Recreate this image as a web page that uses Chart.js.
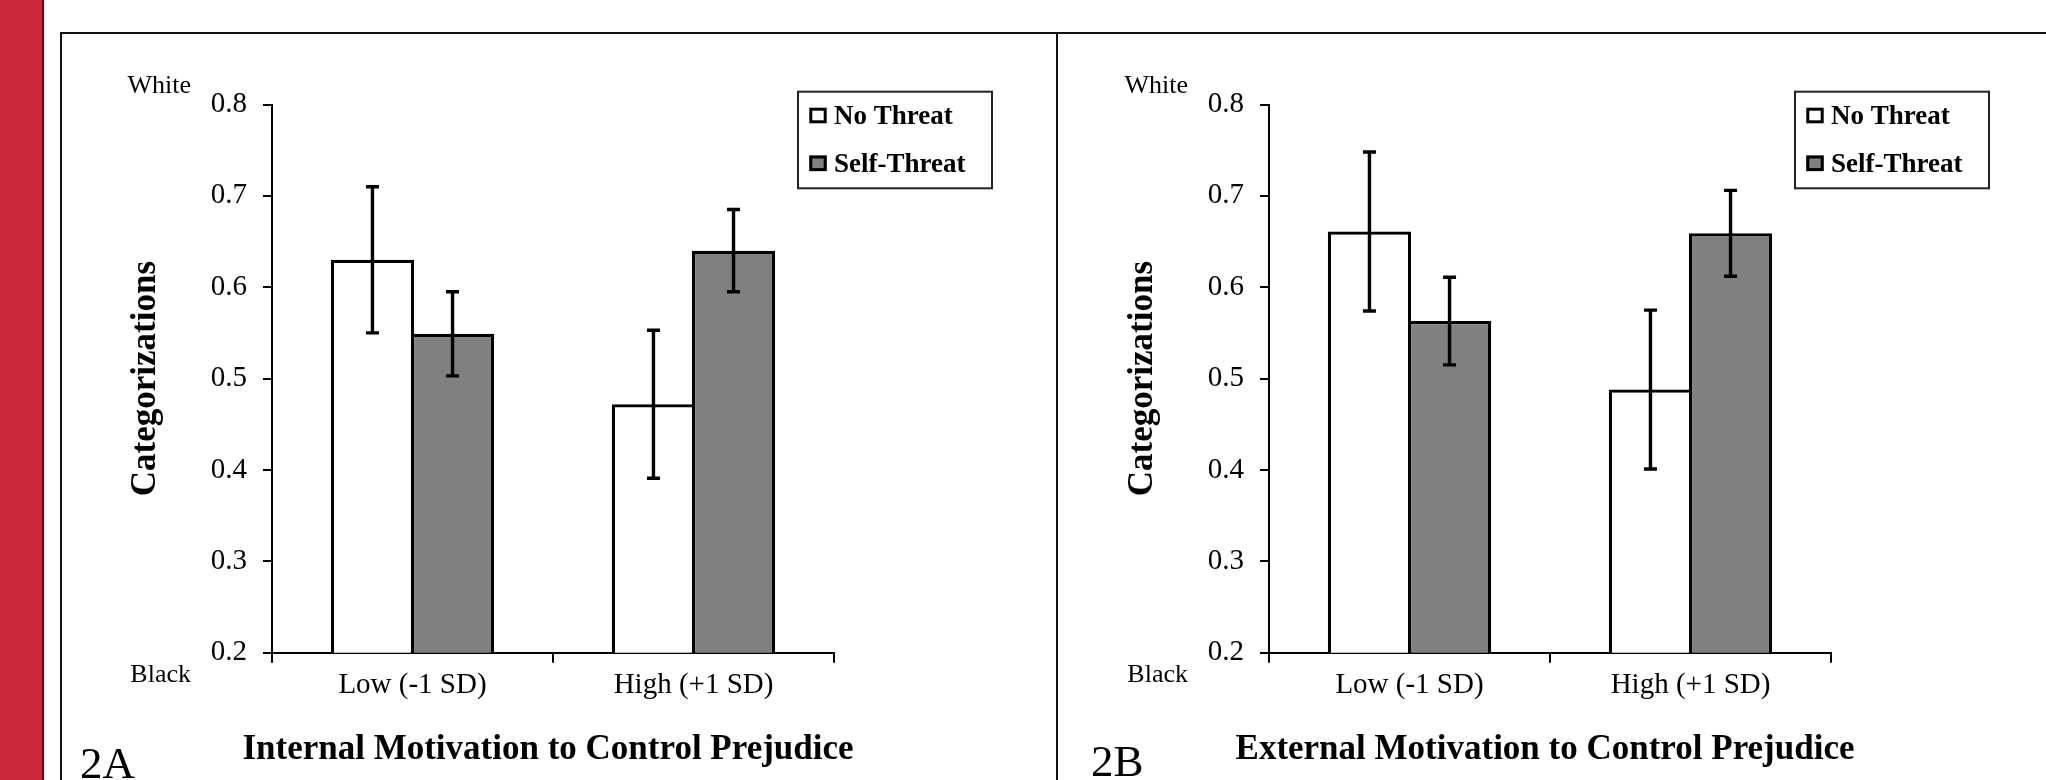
<!DOCTYPE html>
<html><head><meta charset="utf-8">
<script src="https://cdn.jsdelivr.net/npm/chart.js@4/dist/chart.umd.min.js"></script>
<style>
html,body{margin:0;padding:0;background:#fff;width:2046px;height:780px;overflow:hidden;}
#band{position:absolute;left:0;top:0;width:42px;height:780px;background:#C9283B;border-right:2px solid #5a1018;}
.panel{position:absolute;top:32px;height:748px;border-left:2px solid #111;border-top:2px solid #111;box-sizing:border-box;}
#pA{left:60px;width:996px;}
#pB{left:1056px;width:990px;}
canvas{position:absolute;}
</style></head>
<body>
<div id="band"></div>
<div class="panel" id="pA"></div>
<div class="panel" id="pB"></div>
<canvas id="cA" width="994" height="746" style="left:62px;top:34px"></canvas>
<canvas id="cB" width="988" height="746" style="left:1058px;top:34px"></canvas>
<script>
// ---- data ----
const categories = ['Low (-1 SD)', 'High (+1 SD)'];
const seriesNames = ['No Threat', 'Self-Threat'];
const seriesColors = ['#ffffff', '#808080'];
const yRange = [0.2, 0.8];
const yStep = 0.1;
const yEndLabels = ['White', 'Black'];
const yTitle = 'Categorizations';

const noThreatA = [0.630, 0.472];
const selfThreatA = [0.549, 0.640];
const noThreatErrA = [0.080, 0.081];
const selfThreatErrA = [0.046, 0.045];
const xTitleA = 'Internal Motivation to Control Prejudice';
const tagA = '2A';

const noThreatB = [0.661, 0.488];
const selfThreatB = [0.563, 0.659];
const noThreatErrB = [0.087, 0.087];
const selfThreatErrB = [0.048, 0.047];
const xTitleB = 'External Motivation to Control Prejudice';
const tagB = '2B';

const SERIF = "'Liberation Serif', 'Times New Roman', serif";

const errorBarPlugin = {
  id: 'errorBars',
  afterDatasetsDraw(chart) {
    const ctx = chart.ctx, y = chart.scales.y;
    ctx.save();
    ctx.strokeStyle = '#000';
    ctx.lineWidth = 3.4;
    chart.data.datasets.forEach((ds, i) => {
      const meta = chart.getDatasetMeta(i);
      meta.data.forEach((bar, j) => {
        const v = ds.data[j], e = ds.errors[j];
        const yt = y.getPixelForValue(v + e), yb = y.getPixelForValue(v - e);
        ctx.beginPath();
        ctx.moveTo(bar.x, yt); ctx.lineTo(bar.x, yb);
        ctx.moveTo(bar.x - 6.5, yt); ctx.lineTo(bar.x + 6.5, yt);
        ctx.moveTo(bar.x - 6.5, yb); ctx.lineTo(bar.x + 6.5, yb);
        ctx.stroke();
      });
    });
    ctx.restore();
  }
};

const decorPlugin = {
  id: 'decor',
  afterDraw(chart, args, opts) {
    const ctx = chart.ctx, ca = chart.chartArea, y = chart.scales.y;
    ctx.save();
    ctx.fillStyle = '#000';
    ctx.textBaseline = 'alphabetic';
    ctx.textAlign = 'right';
    ctx.font = '26px ' + SERIF;
    ctx.fillText(yEndLabels[0], ca.left - 81, y.getPixelForValue(yRange[1]) - 12);
    ctx.fillText(yEndLabels[1], ca.left - 81, y.getPixelForValue(yRange[0]) + 29);
    // x-axis title (drawn without width compression)
    ctx.textAlign = 'center';
    ctx.font = 'bold 35px ' + SERIF;
    ctx.fillText(opts.xTitle, ca.left + 276, ca.bottom + 106.3);
    // panel tag
    ctx.textAlign = 'left';
    ctx.font = '45px ' + SERIF;
    ctx.fillText(opts.tag, opts.tagX, opts.tagY);
    // legend box
    const lx = ca.right - 36, ly = ca.top - 12.8, lw = 194, lh = 96.6;
    ctx.fillStyle = '#fff';
    ctx.fillRect(lx, ly, lw, lh);
    ctx.strokeStyle = '#222'; ctx.lineWidth = 2;
    ctx.strokeRect(lx, ly, lw, lh);
    ctx.font = 'bold 27px ' + SERIF;
    chart.data.datasets.forEach((ds, i) => {
      const cy = ly + 23.8 + i * 47.8;
      ctx.fillStyle = ds.backgroundColor;
      ctx.fillRect(lx + 11.3, cy - 7.8, 17.4, 15.6);
      ctx.strokeStyle = '#000'; ctx.lineWidth = 3;
      ctx.strokeRect(lx + 12.8, cy - 6.3, 14.4, 12.6);
      ctx.fillStyle = '#000';
      ctx.fillText(ds.label, lx + 36, cy + 8.5);
    });
    ctx.restore();
  }
};

function makeChart(id, noT, selfT, noE, selfE, xTitle, tag, lay) {
  const mk = (k, data, errs) => ({
    label: seriesNames[k], data: data, errors: errs,
    backgroundColor: seriesColors[k], borderColor: '#000', borderWidth: 3.2, borderSkipped: 'start'
  });
  return new Chart(document.getElementById(id), {
    type: 'bar',
    data: {
      labels: categories,
      datasets: [mk(0, noT, noE), mk(1, selfT, selfE)]
    },
    options: {
      responsive: false, animation: false, devicePixelRatio: 1,
      layout: {padding: {left: lay.padL, right: lay.padR, top: 70.5, bottom: 12.1}},
      datasets: {bar: {barPercentage: 1.04, categoryPercentage: 0.57}},
      plugins: {
        legend: {display: false}, tooltip: {enabled: false},
        decor: {tag: tag, tagX: lay.tagX, tagY: lay.tagY, xTitle: xTitle}
      },
      scales: {
        x: {
          z: 1,
          grid: {offset: true, drawOnChartArea: false, drawTicks: true, tickLength: 10, color: '#000', lineWidth: 2},
          border: {display: true, color: '#000', width: 2},
          ticks: {color: '#000', font: {family: SERIF, size: 29}, padding: 5, maxRotation: 0},
          title: {display: false},
          afterFit(s) { s.height = 115.2; }
        },
        y: {
          min: yRange[0], max: yRange[1],
          ticks: {stepSize: yStep, color: '#000', font: {family: SERIF, size: 29}, padding: 16,
                  callback: v => Number(v).toFixed(1)},
          grid: {drawOnChartArea: false, drawTicks: true, tickLength: 9, color: '#000', lineWidth: 2},
          border: {display: true, color: '#000', width: 2},
          title: {display: true, text: yTitle, color: '#000', font: {family: SERIF, size: 35, weight: 'bold'}, padding: 0},
          afterFit(s) { s.width = lay.yW; }
        }
      }
    },
    plugins: [errorBarPlugin, decorPlugin]
  });
}

makeChart('cA', noThreatA, selfThreatA, noThreatErrA, selfThreatErrA, xTitleA, tagA,
  {padL: 62.9, yW: 147.1, padR: 222, tagX: 18, tagY: 744});
makeChart('cB', noThreatB, selfThreatB, noThreatErrB, selfThreatErrB, xTitleB, tagB,
  {padL: 64.4, yW: 146.6, padR: 215, tagX: 33, tagY: 742});
</script>
</body></html>
